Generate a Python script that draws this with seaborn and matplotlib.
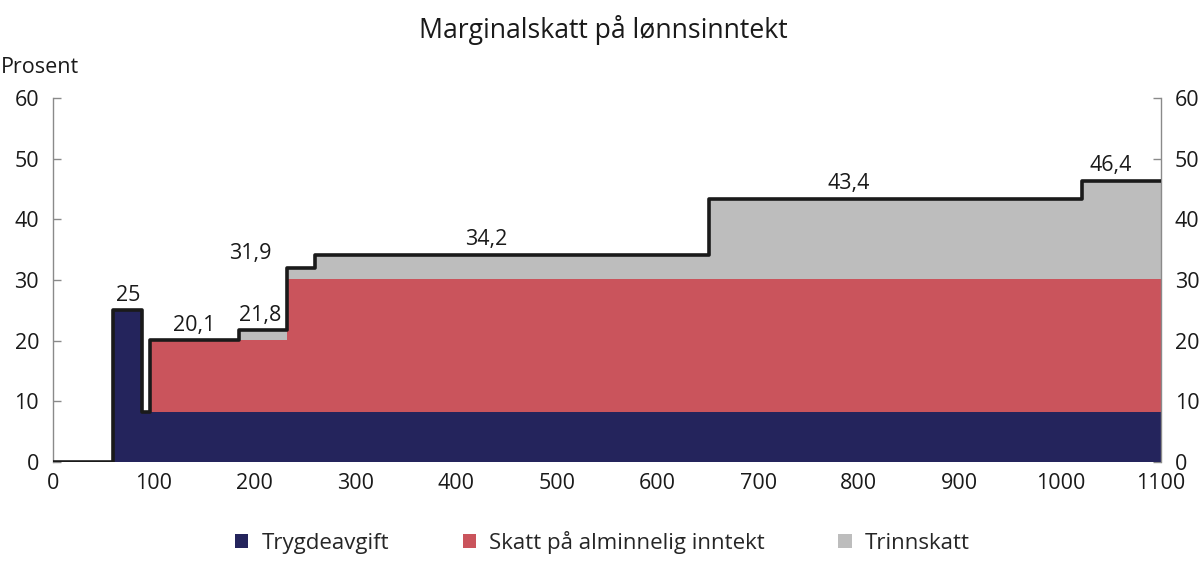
import numpy as np
import pandas as pd
import matplotlib
matplotlib.use("Agg")
import matplotlib.pyplot as plt
import seaborn as sns
from matplotlib.patches import Patch

# Data (income in 1000 kr, marginal tax in percent)
breaks = [0, 59.65, 88.8, 95.8, 184.8, 232.1, 260.1, 651.25, 1021.55, 1100]
trygdeavgift = [0, 25, 8.2, 8.2, 8.2, 8.2, 8.2, 8.2, 8.2]
alminnelig = [0, 0, 0, 11.9, 11.9, 22.0, 22.0, 22.0, 22.0]
trinnskatt = [0, 0, 0, 0, 1.7, 1.7, 4.0, 13.2, 16.2]
labels_text = ["25", "20,1", "21,8", "31,9", "34,2", "43,4", "46,4"]
labels_x = [75, 140, 206, 196, 430, 790, 1050]
labels_y = [25, 20.1, 21.8, 31.9, 34.2, 43.4, 46.4]
series_names = ["Trygdeavgift", "Skatt på alminnelig inntekt", "Trinnskatt"]
colors = ["#24245c", "#ca545c", "#bdbdbd"]

sns.set_theme(style="white")
plt.rcParams['font.family'] = ['Open Sans', 'DejaVu Sans']

x = np.array(breaks)
t = np.array(trygdeavgift + [trygdeavgift[-1]])
a = np.array(alminnelig + [alminnelig[-1]])
s = np.array(trinnskatt + [trinnskatt[-1]])
total = t + a + s
df = pd.DataFrame({"inntekt": x, "total": total})

fig = plt.figure(figsize=(12, 5.7), dpi=100)
ax = fig.add_axes([0.0442, 0.1895, 0.9233, 0.6385])

ax.fill_between(x, 0, t, step="post", color=colors[0], lw=0, zorder=1)
ax.fill_between(x, t, t + a, step="post", color=colors[1], lw=0, zorder=1)
ax.fill_between(x, t + a, t + a + s, step="post", color=colors[2], lw=0, zorder=1)
sns.lineplot(data=df, x="inntekt", y="total", drawstyle="steps-post",
             color="#1a1a1a", lw=2.6, ax=ax, zorder=3)

for txt, lx, ly in zip(labels_text, labels_x, labels_y):
    ax.text(lx, ly + 0.7, txt, ha="center", va="bottom", fontsize=15.5, color="#1a1a1a")

ax.set_xlim(0, 1100)
ax.set_ylim(0, 60)
ax.set_xticks(range(0, 1101, 100))
ax.set_yticks(range(0, 61, 10))
ax.set_xlabel("")
ax.set_ylabel("")
for sp in ["top", "bottom"]:
    ax.spines[sp].set_visible(False)
for sp in ["left", "right"]:
    ax.spines[sp].set_color("#8a8a8a")
    ax.spines[sp].set_linewidth(1.0)
ax.tick_params(axis="x", length=0, labelsize=15.5, pad=8, colors="#1a1a1a")
ax.tick_params(axis="y", direction="in", length=6, width=1, color="#8a8a8a",
               labelsize=15.5, pad=10, labelcolor="#1a1a1a",
               left=True, right=True, labelleft=True, labelright=True)

fig.text(0.503, 0.947, "Marginalskatt på lønnsinntekt", ha="center", va="center",
         fontsize=19.2, color="#1a1a1a")
fig.text(0.001, 0.882, "Prosent", ha="left", va="center", fontsize=15.5, color="#1a1a1a")

handles = [Patch(facecolor=c, edgecolor="none") for c in colors]
fig.legend(handles, series_names, loc="center", bbox_to_anchor=(0.502, 0.048), ncol=3,
           frameon=False, fontsize=16, handlelength=0.6, handleheight=0.6,
           handletextpad=0.6, columnspacing=3.3)

fig.savefig("out.png", dpi=100)
